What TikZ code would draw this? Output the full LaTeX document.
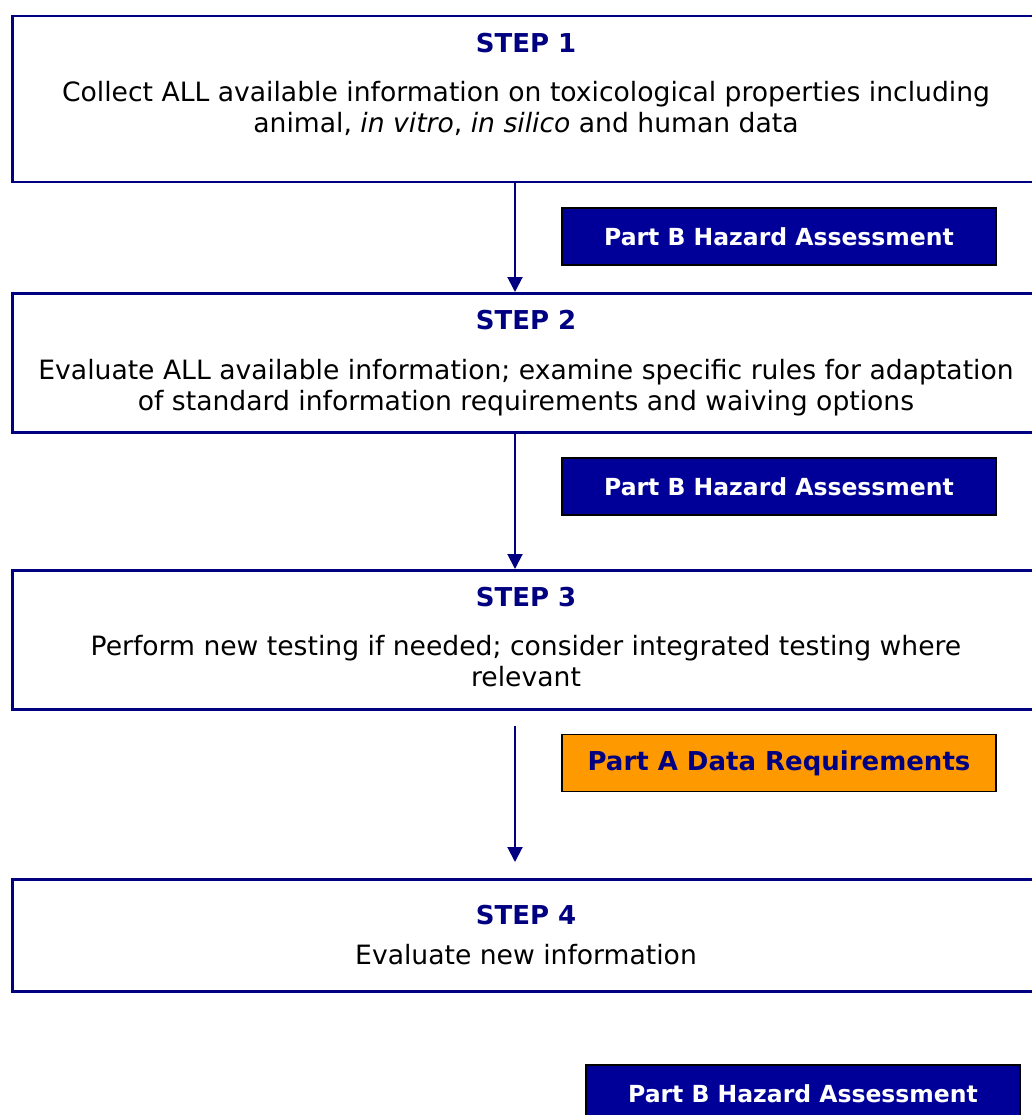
\documentclass[tikz,border=0pt]{standalone}
\usepackage{fontspec}
\setmainfont{DejaVu Sans}
\usetikzlibrary{positioning,arrows.meta}
\definecolor{navy}{RGB}{0,0,128}
\definecolor{partblue}{RGB}{0,0,153}
\definecolor{partorange}{RGB}{255,153,0}
\begin{document}
\begin{tikzpicture}[x=1pt,y=-1pt,
  stepbox/.style={draw=navy,line width=2.5pt,minimum width=1060pt,anchor=north west,inner sep=0pt},
  title/.style={text=navy,font=\fontsize{26}{30}\selectfont\bfseries},
  body/.style={align=center,font=\fontsize{26.6}{31}\selectfont},
  part/.style={draw=black,line width=1.5pt,fill=partblue,text=white,minimum width=434pt,minimum height=57pt,font=\fontsize{23.5}{28}\selectfont\bfseries},
  flow/.style={draw=navy,line width=2pt,-{Triangle[width=15pt,length=15pt]}}]
  \useasboundingbox (0,0) rectangle (1032,1115);
  \coordinate (axis) at (515,0);
  \node[stepbox,minimum height=166pt](box1) at (11,15) {};
  \node[stepbox,minimum height=139pt](box2) at (11,292) {};
  \node[stepbox,minimum height=139pt](box3) at (11,569) {};
  \node[stepbox,minimum height=112pt](box4) at (11,878) {};
  \node[title](s1) at (526,43) {STEP 1};
  \node[body](t1) at (526,108) {Collect ALL available information on toxicological properties including\\animal, \textit{in vitro}, \textit{in silico} and human data};
  \node[title](s2) at (526,320) {STEP 2};
  \node[body](t2) at (526,388) {Evaluate ALL available information; examine specific rules for adaptation\\of standard information requirements and waiving options};
  \node[title](s3) at (526,597) {STEP 3};
  \node[body](t3) at (526,661) {Perform new testing if needed; consider integrated testing where\\relevant};
  \node[title](s4) at (526,915) {STEP 4};
  \node[body](t4) at (526,955) {Evaluate new information};
  \node[part](pb1) at (779,236.5) {Part B Hazard Assessment};
  \node[part](pb2) at (779,486.5) {Part B Hazard Assessment};
  \node[part,fill=partorange,text=navy,font=\fontsize{26}{30}\selectfont\bfseries](pa) at (779,763) {Part A Data Requirements};
  \node[part](pb3) at (803,1093.5) {Part B Hazard Assessment};
  \draw[flow] (box1.south -| axis) -- (box2.north -| axis);
  \draw[flow] (box2.south -| axis) -- (box3.north -| axis);
  \draw[flow,shorten <=15pt,shorten >=16pt] (box3.south -| axis) -- (box4.north -| axis);
\end{tikzpicture}
\end{document}
